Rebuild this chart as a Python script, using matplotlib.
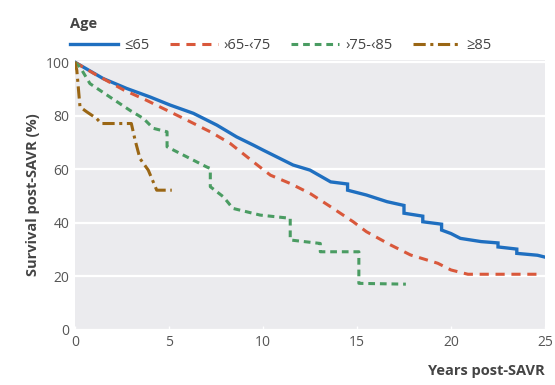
import numpy as np
import matplotlib.pyplot as plt

# Kaplan-Meier style survival curves
t_le65 = [0, 1.5, 2.75, 4.0, 5.06, 6.3, 7.55, 8.6, 9.5, 10.0, 11.6, 12.5, 13.6, 14.5, 14.5,
          15.5, 16.6, 17.5, 17.5, 18.5, 18.5, 19.5, 19.5, 20.0, 20.5, 21.6, 22.5, 22.5,
          23.5, 23.5, 24.6, 25.0]
s_le65 = [100, 93.9, 90.2, 87, 84, 80.9, 76.5, 72.1, 69, 67.2, 61.6, 59.7, 55.3, 54.5, 52.2,
          50.4, 47.9, 46.5, 43.6, 42.5, 40.4, 39.5, 37.3, 36, 34.2, 33, 32.5, 31,
          30.2, 28.6, 27.9, 27.2]

t_65_75 = [0, 1.0, 2.6, 3.8, 4.9, 5.95, 7.2, 8.25, 9.7, 10.4, 11.45, 12.5, 13.6, 14.8,
           15.5, 16.8, 17.85, 19.3, 20.0, 20.9, 24.6]
s_65_75 = [100, 95.8, 89.6, 85.8, 82, 78.4, 74, 69.7, 61.6, 57.8, 54.7, 51, 46, 40.4,
           36.7, 31.7, 28, 24.9, 22.4, 20.8, 20.8]

t_75_85 = [0, 0.27, 0.8, 1.86, 2.93, 3.64, 4.17, 4.9, 4.9, 5.6, 7.0, 7.2, 7.2, 7.9, 8.4,
           9.85, 11.45, 11.45, 13.05, 13.05, 15.1, 15.1, 17.6]
s_75_85 = [100, 98.2, 92, 87, 82, 79, 75.3, 74, 68.4, 65.9, 60.9, 60.3, 53.5, 49.7, 45.4,
           42.9, 41.7, 33.6, 32.3, 29.2, 29.2, 17.4, 17.1]

t_ge85 = [0, 0.1, 0.27, 0.62, 1.15, 1.4, 3.0, 3.2, 3.46, 3.9, 4.35, 5.15]
s_ge85 = [100, 97, 83.3, 81.5, 79, 77.1, 77.1, 70.9, 64, 59.7, 52.2, 52.2]

labels = ["≤65", "›65-‹75", "›75-‹85", "≥85"]
colors = ["#1f6fc0", "#d9583b", "#4a9c62", "#9a6614"]

plt.rcParams['font.family'] = ['Open Sans', 'DejaVu Sans']

fig = plt.figure(figsize=(5.55, 3.85), dpi=100)
ax = fig.add_axes([0.135, 0.143, 0.847, 0.701])
ax.set_facecolor("#ebebee")

ax.plot(t_le65, s_le65, color=colors[0], lw=2.4, ls='-', label=labels[0], solid_joinstyle='miter')
ax.plot(t_65_75, s_65_75, color=colors[1], lw=2.2, ls=(0, (3, 2.2)), label=labels[1])
ax.plot(t_75_85, s_75_85, color=colors[2], lw=2.2, ls=(0, (2.2, 1.6)), label=labels[2])
ax.plot(t_ge85, s_ge85, color=colors[3], lw=2.2, ls=(0, (4, 1.5, 1, 1.5)), label=labels[3])

ax.set_xlim(0, 25)
ax.set_ylim(0, 100.8)
ax.set_xticks(np.arange(0, 26, 5))
ax.set_yticks(np.arange(0, 101, 20))
ax.yaxis.grid(True, color="white", lw=1.6)
ax.set_axisbelow(True)
for sp in ax.spines.values():
    sp.set_visible(False)
ax.tick_params(axis='both', colors="white", direction='in', length=3, width=1,
               labelcolor="#555555", labelsize=10)
ax.tick_params(axis='y', length=0, pad=4)

ax.set_ylabel("Survival post-SAVR (%)", fontsize=10.5, fontweight='bold', color="#444444", labelpad=4)
ax.set_xlabel("Years post-SAVR", fontsize=10.5, fontweight='bold', color="#444444")
ax.xaxis.set_label_coords(1.0, -0.125)
ax.xaxis.label.set_ha('right')

leg = ax.legend(loc='lower left', bbox_to_anchor=(-0.02, 1.01), ncol=4, frameon=False,
                title="Age", fontsize=10.5, handlelength=3.3, columnspacing=1.4,
                handletextpad=0.4, borderaxespad=0.1, borderpad=0.2)
leg.get_title().set_fontweight('bold')
leg.get_title().set_color("#444444")
leg.get_title().set_fontsize(10.5)
leg._legend_box.align = "left"
for txt in leg.get_texts():
    txt.set_color("#444444")

fig.savefig("out.png", dpi=100)
